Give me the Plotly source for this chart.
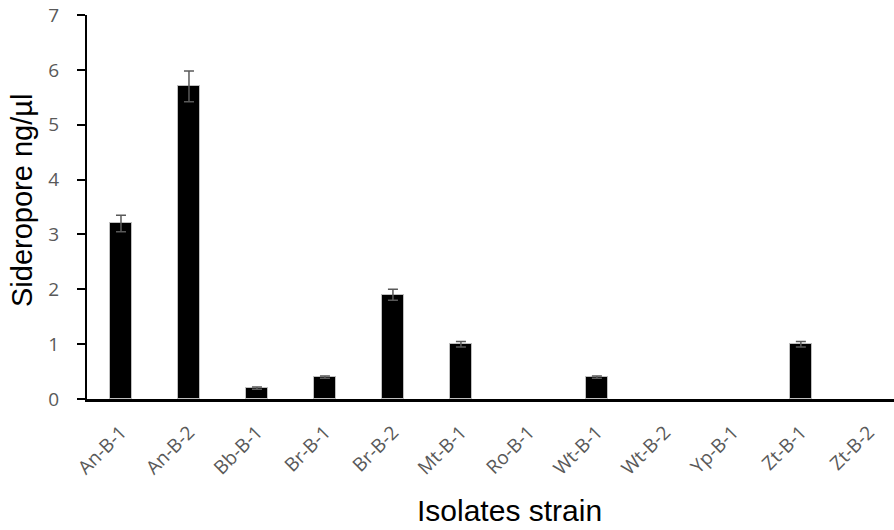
import plotly.graph_objects as go

strains = ["An-B-1", "An-B-2", "Bb-B-1", "Br-B-1", "Br-B-2", "Mt-B-1",
           "Ro-B-1", "Wt-B-1", "Wt-B-2", "Yp-B-1", "Zt-B-1", "Zt-B-2"]
siderophore = [3.2, 5.7, 0.2, 0.4, 1.9, 1.0, 0.0, 0.4, 0.0, 0.0, 1.0, 0.0]
err = [0.15, 0.28, 0.02, 0.02, 0.1, 0.05, 0.0, 0.02, 0.0, 0.0, 0.05, 0.0]
y_ticks = [0, 1, 2, 3, 4, 5, 6, 7]

W, H = 894, 530
L, R, T, B = 87, 0, 15, 131

# no outline on empty (zero) bars
outline_w = [1 if v > 0 else 0 for v in siderophore]

fig = go.Figure()
fig.add_trace(go.Bar(
    x=strains,
    y=siderophore,
    width=0.32,
    marker=dict(color="#000000", line=dict(color="#bfbfbf", width=outline_w)),
))

# error bars only where a bar exists
has_err = [i for i, e in enumerate(err) if e > 0]
fig.add_trace(go.Scatter(
    x=[strains[i] for i in has_err],
    y=[siderophore[i] for i in has_err],
    mode="markers",
    marker=dict(opacity=0, size=1),
    error_y=dict(type="data", array=[err[i] for i in has_err], visible=True,
                 color="#595959", thickness=1.5, width=5),
    hoverinfo="skip",
))

fig.update_layout(
    width=W, height=H,
    margin=dict(l=L, r=R, t=T, b=B, pad=0),
    plot_bgcolor="white", paper_bgcolor="white",
    showlegend=False,
    bargap=0,
    xaxis=dict(
        type="category",
        categoryorder="array", categoryarray=strains,
        range=[-0.5, 11.37],
        showline=True, linecolor="#000000", linewidth=2.5,
        ticks="", tickangle=-45,
        tickfont=dict(family="Open Sans, Arial, sans-serif", size=19, color="#595959"),
        showgrid=False, zeroline=False,
        ticklabelstandoff=12,
    ),
    yaxis=dict(
        range=[0, 7],
        tickvals=y_ticks,
        showline=True, linecolor="#000000", linewidth=2,
        ticks="outside", ticklen=8, tickwidth=1.5, tickcolor="#000000",
        tickfont=dict(family="Open Sans, Arial, sans-serif", size=19, color="#595959"),
        showgrid=False, zeroline=False,
        ticklabelstandoff=14,
    ),
)

# axis titles
fig.add_annotation(
    text="Isolates strain", xref="paper", yref="paper",
    x=(509 - L) / (W - L - R), y=-(510 - (H - B)) / (H - T - B),
    xanchor="center", yanchor="middle", showarrow=False,
    font=dict(family="Liberation Sans, Arial, sans-serif", size=30, color="#000000"),
)
fig.add_annotation(
    text="Sideropore ng/µl", xref="paper", yref="paper",
    x=-(L - 22) / (W - L - R), y=(H - B - 201) / (H - T - B),
    xanchor="center", yanchor="middle", showarrow=False, textangle=-90,
    font=dict(family="Liberation Sans, Arial, sans-serif", size=29, color="#000000"),
)

fig.write_html("out.html")
